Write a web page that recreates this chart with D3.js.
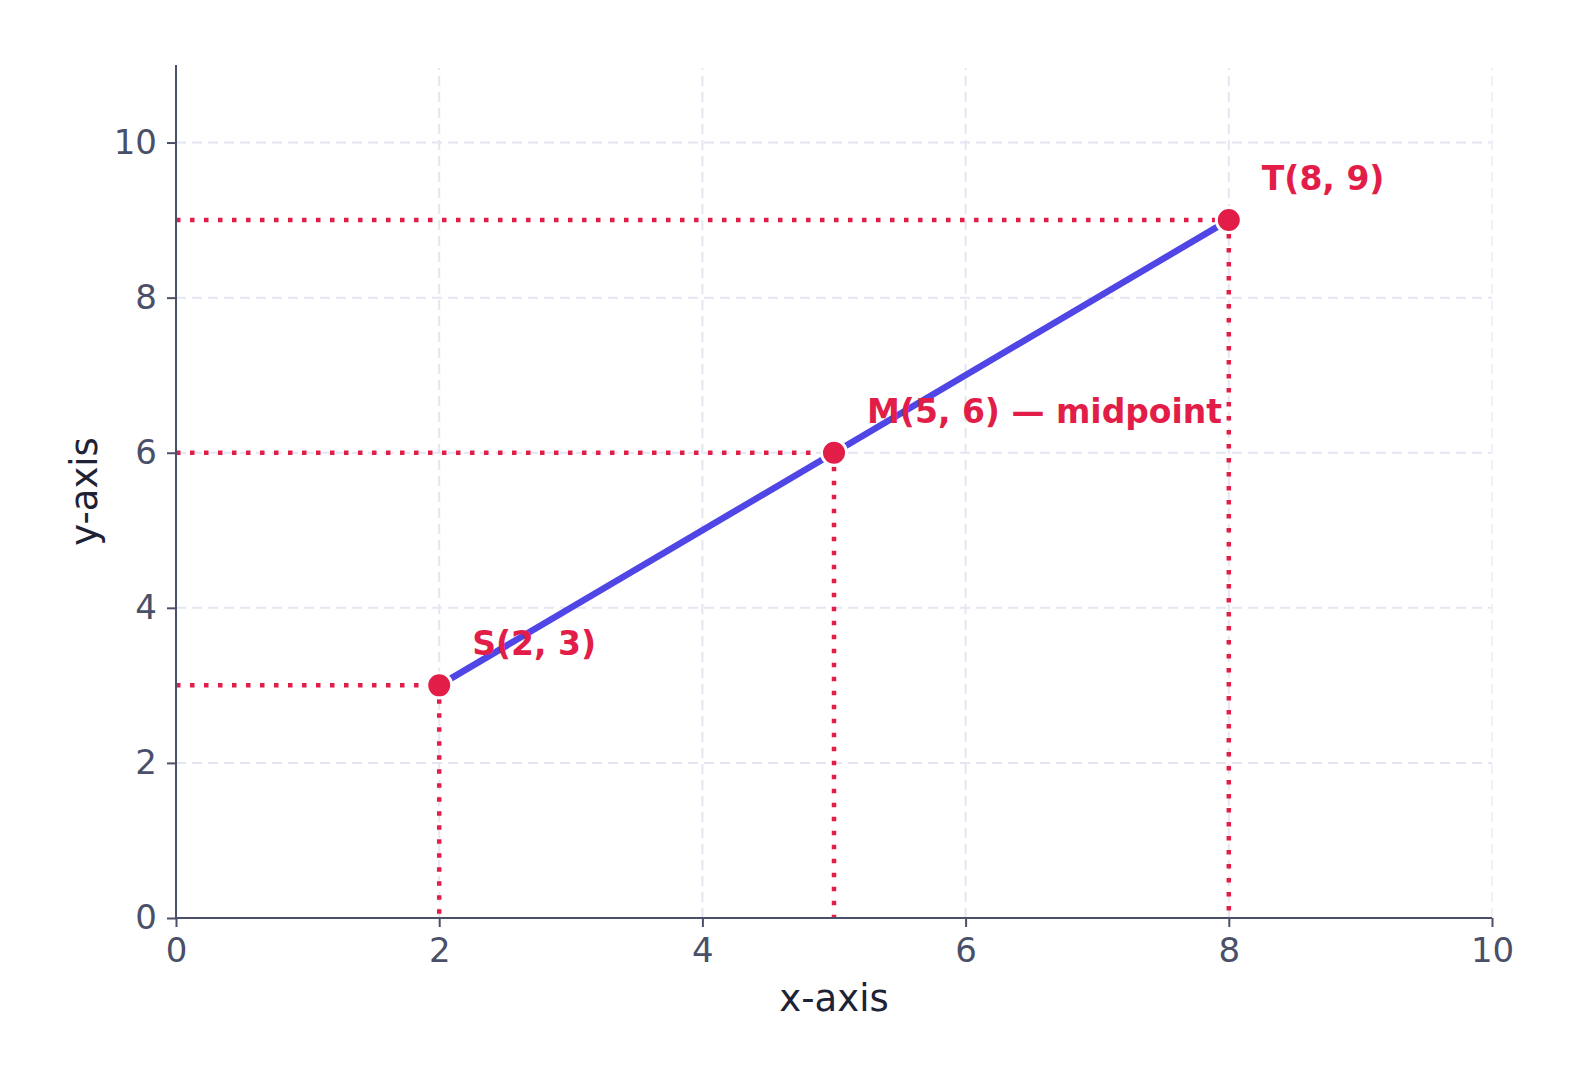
<!DOCTYPE html>
<html>
<head>
<meta charset="utf-8">
<script src="https://cdn.jsdelivr.net/npm/d3@7"></script>
<style>
  body { margin: 0; background: #fff; }
  text { font-family: "DejaVu Sans", sans-serif; }
</style>
</head>
<body>
<svg id="chart"></svg>
<script>
// Points of the segment and its midpoint
var pointNames = ["S", "M", "T"];
var pointX = [2, 5, 8];
var pointY = [3, 6, 9];
var pointLabels = ["S(2, 3)", "M(5, 6) — midpoint", "T(8, 9)"];
var xTicks = [0, 2, 4, 6, 8, 10];
var yTicks = [0, 2, 4, 6, 8, 10];

var width = 1580, height = 1084;
var margin = {left: 176, right: 88, top: 65, bottom: 166};

var svg = d3.select("#chart")
  .attr("width", width)
  .attr("height", height);

var x = d3.scaleLinear().domain([0, 10]).range([margin.left, width - margin.right]);
var y = d3.scaleLinear().domain([0, 11]).range([height - margin.bottom, margin.top]);

var points = pointNames.map((n, i) => ({name: n, x: pointX[i], y: pointY[i], label: pointLabels[i]}));

// grid
svg.append("g")
  .selectAll("line")
  .data(yTicks)
  .join("line")
  .attr("x1", x(0)).attr("x2", x(10))
  .attr("y1", d => y(d)).attr("y2", d => y(d))
  .attr("stroke", "#e4e6f2")
  .attr("stroke-width", 2)
  .attr("stroke-dasharray", "10 6");

svg.append("g")
  .selectAll("line")
  .data(xTicks)
  .join("line")
  .attr("x1", d => x(d)).attr("x2", d => x(d))
  .attr("y1", y(0)).attr("y2", y(11) + 3)
  .attr("stroke", d => d === 10 ? "#f0f1f8" : "#e4e6f2")
  .attr("stroke-width", 2)
  .attr("stroke-dasharray", "10 6");

// projection lines
var proj = svg.append("g")
  .attr("stroke", "#e11d48")
  .attr("stroke-width", 4.5)
  .attr("stroke-dasharray", "4.5 9.5");

proj.selectAll("line.h")
  .data(points)
  .join("line")
  .attr("class", "h")
  .attr("x1", x(0)).attr("x2", d => x(d.x))
  .attr("y1", d => y(d.y)).attr("y2", d => y(d.y));

proj.selectAll("line.v")
  .data(points)
  .join("line")
  .attr("class", "v")
  .attr("x1", d => x(d.x)).attr("x2", d => x(d.x))
  .attr("y1", d => y(d.y)).attr("y2", y(0));

// segment S–T
svg.append("path")
  .datum([points[0], points[2]])
  .attr("d", d3.line().x(d => x(d.x)).y(d => y(d.y)))
  .attr("fill", "none")
  .attr("stroke", "#4f46e5")
  .attr("stroke-width", 6.5);

// axes
var xAxis = svg.append("g")
  .attr("transform", `translate(0,${y(0)})`)
  .call(d3.axisBottom(x).tickValues(xTicks).tickSize(9).tickPadding(11));

var yAxis = svg.append("g")
  .attr("transform", `translate(${x(0)},0)`)
  .call(d3.axisLeft(y).tickValues(yTicks).tickSize(9).tickPadding(10));

[xAxis, yAxis].forEach(a => {
  a.select(".domain").attr("stroke", "#4a5068").attr("stroke-width", 2);
  a.selectAll(".tick line").attr("stroke", "#4a5068").attr("stroke-width", 2);
  a.selectAll(".tick text")
    .attr("fill", "#4a5068")
    .style("font-size", "34px")
    .style("font-family", "DejaVu Sans, sans-serif");
});
yAxis.select(".domain").attr("d", `M0,${y(11)}V${y(0)}`);
xAxis.select(".domain").attr("d", `M${x(0)},0H${x(10)}`);

// points
svg.append("g")
  .selectAll("circle")
  .data(points)
  .join("circle")
  .attr("cx", d => x(d.x))
  .attr("cy", d => y(d.y))
  .attr("r", 12.5)
  .attr("fill", "#e11d48")
  .attr("stroke", "#fff")
  .attr("stroke-width", 3);

// labels
svg.append("g")
  .selectAll("text")
  .data(points)
  .join("text")
  .attr("x", d => x(d.x) + 33)
  .attr("y", d => y(d.y) - 30)
  .attr("fill", "#e11d48")
  .style("font-size", "33px")
  .style("font-weight", "bold")
  .text(d => d.label);

// axis titles
svg.append("text")
  .attr("x", (x(0) + x(10)) / 2)
  .attr("y", 1011)
  .attr("text-anchor", "middle")
  .attr("fill", "#1e2235")
  .style("font-size", "37px")
  .text("x-axis");

svg.append("text")
  .attr("transform", `translate(97,${(y(0) + y(11)) / 2}) rotate(-90)`)
  .attr("text-anchor", "middle")
  .attr("fill", "#1e2235")
  .style("font-size", "37px")
  .text("y-axis");
</script>
</body>
</html>
